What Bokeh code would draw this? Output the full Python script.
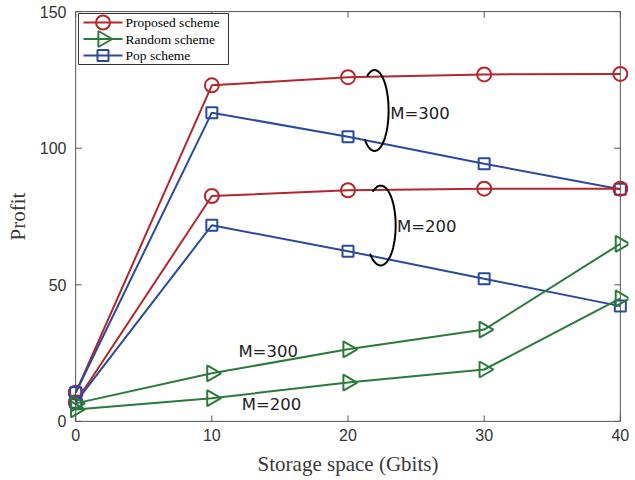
import numpy as np
from bokeh.plotting import figure
from bokeh.models import LinearAxis, Range1d, FixedTicker
from bokeh.core.properties import value
from bokeh.embed import file_html
from bokeh.resources import INLINE

# ---- data ----
storage = [0, 10, 20, 30, 40]
proposed_m300 = [10.5, 123.0, 126.0, 127.0, 127.2]
pop_m300 = [10.5, 113.0, 104.2, 94.3, 85.0]
proposed_m200 = [7.0, 82.5, 84.6, 85.2, 85.2]
pop_m200 = [7.0, 71.8, 62.3, 52.2, 42.2]
random_m300 = [6.6, 17.6, 26.4, 33.6, 65.0]
random_m200 = [4.4, 8.5, 14.2, 19.0, 45.0]

x_ticks = [0, 10, 20, 30, 40]
y_ticks = [0, 50, 100, 150]

legend_labels = ["Proposed scheme", "Random scheme", "Pop scheme"]

# annotations
note_text = ["M=300", "M=200", "M=300", "M=200"]
note_x = [23.1, 23.6, 11.95, 12.2]
note_y = [112.7, 71.3, 25.6, 6.2]

ell_cx = [21.95, 22.4]
ell_cy = [113.8, 71.7]
ell_a = [1.03, 1.1]
ell_b = [14.8, 14.6]

RED = "#B3272D"
GREEN = "#2C7A3A"
BLUE = "#2B4A9B"
AXC = "#555555"

# ---- geometry ----
X0, X1 = -0.6, 40.6
Y0, Y1 = -0.4, 150.4
BL, BR, BT, BB = 67, 7, 10, 58
W, H = 635, 480
FW = W - BL - BR
FH = H - BT - BB


def px2x(px):
    return X0 + (px - BL) / FW * (X1 - X0)


def py2y(py):
    return Y1 - (py - BT) / FH * (Y1 - Y0)


DX = (X1 - X0) / FW   # data per px in x
DY = (Y1 - Y0) / FH   # data per px in y

p = figure(width=W, height=H, output_backend="svg", toolbar_location=None,
           x_range=Range1d(X0, X1), y_range=Range1d(Y0, Y1),
           x_axis_location=None, y_axis_location=None,
           min_border_left=BL, min_border_right=BR, min_border_top=BT, min_border_bottom=BB)
p.outline_line_color = None
p.xgrid.visible = False
p.ygrid.visible = False
p.background_fill_color = "white"
p.border_fill_color = "white"


def style_axis(ax):
    ax.axis_line_color = None
    ax.major_tick_line_color = None
    ax.minor_tick_line_color = None
    ax.major_tick_in = 0
    ax.major_tick_out = 0
    ax.major_label_text_font = "Liberation Sans"
    ax.major_label_text_font_size = "16px"
    ax.major_label_text_color = "#333333"
    ax.axis_label_text_font = "Liberation Serif"
    ax.axis_label_text_font_style = "normal"
    ax.axis_label_text_font_size = "21px"
    ax.axis_label_text_color = "#3a3a3a"


xb = LinearAxis(ticker=FixedTicker(ticks=x_ticks), axis_label="Storage space (Gbits)")
style_axis(xb)
xb.major_label_standoff = 6
xb.axis_label_standoff = 8
p.add_layout(xb, "below")

yl = LinearAxis(ticker=FixedTicker(ticks=y_ticks), axis_label="Profit")
style_axis(yl)
yl.major_label_standoff = 1
yl.axis_label_standoff = 7
p.add_layout(yl, "left")

# ---- box and inward ticks ----
xmin, xmax = x_ticks[0], x_ticks[-1]
ymin, ymax = y_ticks[0], y_ticks[-1]
p.quad(left=[xmin], right=[xmax], bottom=[ymin], top=[ymax],
       fill_color=None, line_color=AXC, line_width=1)
TL = 6
xt = np.array(x_ticks, dtype=float)
yt = np.array(y_ticks, dtype=float)
p.segment(x0=xt, y0=np.full_like(xt, ymin), x1=xt, y1=np.full_like(xt, ymin + TL * DY),
          line_color=AXC, line_width=1)
p.segment(x0=xt, y0=np.full_like(xt, ymax), x1=xt, y1=np.full_like(xt, ymax - TL * DY),
          line_color=AXC, line_width=1)
p.segment(x0=np.full_like(yt, xmin), y0=yt, x1=np.full_like(yt, xmin + TL * DX), y1=yt,
          line_color=AXC, line_width=1)
p.segment(x0=np.full_like(yt, xmax), y0=yt, x1=np.full_like(yt, xmax - TL * DX), y1=yt,
          line_color=AXC, line_width=1)

LW = 2
MK = {"circle": dict(marker="circle", size=14, angle=0.0),
      "square": dict(marker="square", size=11, angle=0.0),
      "tri": dict(marker="triangle", size=16, angle=-np.pi / 2)}


def series(y, color, mk):
    p.line(storage, y, line_color=color, line_width=LW)
    p.scatter(storage, y, fill_color=None, line_color=color, line_width=LW, **MK[mk])


series(proposed_m300, RED, "circle")
series(pop_m300, BLUE, "square")
series(proposed_m200, RED, "circle")
series(pop_m200, BLUE, "square")
series(random_m300, GREEN, "tri")
series(random_m200, GREEN, "tri")

# ellipse arcs (annotation brackets)
t = np.radians(np.linspace(-135, 122, 90))
for cx, cy, a, b in zip(ell_cx, ell_cy, ell_a, ell_b):
    p.line(cx + a * np.cos(t), cy + b * np.sin(t), line_color="black", line_width=2)

p.text(x=note_x, y=note_y, text=note_text, text_font=value("DejaVu Sans"),
       text_font_size="16.5px", text_align="left", text_baseline="middle",
       text_color="#222222")

# ---- legend (drawn manually so markers match the plot) ----
lg_left, lg_top, lg_right, lg_bottom = 78, 13, 228, 64
row_py = [22, 38.5, 55]
line_px = (83, 122)
text_px = 125
p.quad(left=[px2x(lg_left)], right=[px2x(lg_right)], top=[py2y(lg_top)], bottom=[py2y(lg_bottom)],
       fill_color="white", line_color="#333333", line_width=1)
leg_colors = [RED, GREEN, BLUE]
leg_marks = ["circle", "tri", "square"]
for lab, col, mk, ry in zip(legend_labels, leg_colors, leg_marks, row_py):
    yy = py2y(ry)
    p.line([px2x(line_px[0]), px2x(line_px[1])], [yy, yy], line_color=col, line_width=LW)
    p.scatter([px2x((line_px[0] + line_px[1]) / 2)], [yy], fill_color=None, line_color=col,
              line_width=LW, **MK[mk])
    p.text(x=[px2x(text_px)], y=[yy], text=[lab], text_font=value("Liberation Serif"),
           text_font_size="13.5px", text_align="left", text_baseline="middle",
           text_color="black")

open("out.html", "w").write(file_html(p, INLINE))
